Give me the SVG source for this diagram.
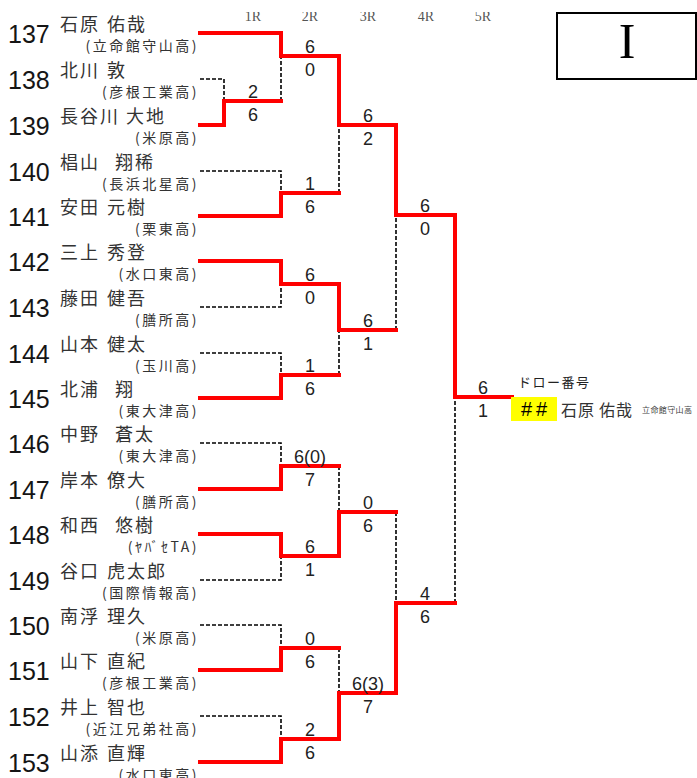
<svg xmlns="http://www.w3.org/2000/svg" width="697" height="778" viewBox="0 0 697 778">
<defs>
<style>
.num{font-family:"Liberation Sans",Arial,sans-serif;font-size:25px;fill:#151515}
.nm{font-family:"Noto Sans CJK JP","Noto Sans CJK SC",sans-serif;font-size:18px;letter-spacing:2px;fill:#333}
.sc{font-family:"Noto Sans CJK JP","Noto Sans CJK SC",sans-serif;font-size:14px;letter-spacing:2.5px;fill:#333;text-anchor:end}
.s{font-family:"Liberation Sans",Arial,sans-serif;font-size:18px;fill:#222;text-anchor:middle}
.rd{fill:#555;font-family:"Liberation Serif","Times New Roman",serif;font-size:14px;text-anchor:middle}
.r{fill:none;stroke:#ff0000;stroke-width:4;stroke-linejoin:miter;stroke-linecap:square}
.d{fill:none;stroke:#000;stroke-width:1.6;stroke-dasharray:4 2}
</style>
<clipPath id="hc"><rect x="0" y="12" width="697" height="20"/></clipPath>
</defs>
<rect width="697" height="778" fill="#fff"/>

<g id="rounds" clip-path="url(#hc)">
<text class="rd" x="253" y="21">1R</text>
<text class="rd" x="310" y="21">2R</text>
<text class="rd" x="368" y="21">3R</text>
<text class="rd" x="426" y="21">4R</text>
<text class="rd" x="483" y="21">5R</text>
</g>

<g id="block-label">
<rect x="557" y="13" width="139" height="66" fill="none" stroke="#000" stroke-width="2"/>
<text x="627" y="58" font-family="'Liberation Serif','Times New Roman',serif" font-size="50" text-anchor="middle" fill="#000">I</text>
</g>

<g id="p137"><text class="num" x="8" y="43">137</text><text class="nm" x="60" y="31">石原<tspan x="107">佑哉</tspan></text><text class="sc" x="199" y="51">(立命館守山高)</text></g>
<g id="p138"><text class="num" x="8" y="89">138</text><text class="nm" x="60" y="77">北川<tspan x="107">敦</tspan></text><text class="sc" x="199" y="97">(彦根工業高)</text></g>
<g id="p139"><text class="num" x="8" y="135">139</text><text class="nm" x="60" y="123">長谷川<tspan x="126">大地</tspan></text><text class="sc" x="199" y="143">(米原高)</text></g>
<g id="p140"><text class="num" x="8" y="181">140</text><text class="nm" x="60" y="169">椙山<tspan x="115">翔稀</tspan></text><text class="sc" x="199" y="189">(長浜北星高)</text></g>
<g id="p141"><text class="num" x="8" y="226">141</text><text class="nm" x="60" y="214">安田<tspan x="107">元樹</tspan></text><text class="sc" x="199" y="234">(栗東高)</text></g>
<g id="p142"><text class="num" x="8" y="271">142</text><text class="nm" x="60" y="259">三上<tspan x="107">秀登</tspan></text><text class="sc" x="199" y="279">(水口東高)</text></g>
<g id="p143"><text class="num" x="8" y="317">143</text><text class="nm" x="60" y="305">藤田<tspan x="107">健吾</tspan></text><text class="sc" x="199" y="325">(膳所高)</text></g>
<g id="p144"><text class="num" x="8" y="363">144</text><text class="nm" x="60" y="351">山本<tspan x="107">健太</tspan></text><text class="sc" x="199" y="371">(玉川高)</text></g>
<g id="p145"><text class="num" x="8" y="408">145</text><text class="nm" x="60" y="396">北浦<tspan x="115">翔</tspan></text><text class="sc" x="199" y="416">(東大津高)</text></g>
<g id="p146"><text class="num" x="8" y="453">146</text><text class="nm" x="60" y="441">中野<tspan x="115">蒼太</tspan></text><text class="sc" x="199" y="461">(東大津高)</text></g>
<g id="p147"><text class="num" x="8" y="499">147</text><text class="nm" x="60" y="487">岸本<tspan x="107">僚大</tspan></text><text class="sc" x="199" y="507">(膳所高)</text></g>
<g id="p148"><text class="num" x="8" y="544">148</text><text class="nm" x="60" y="532">和西<tspan x="115">悠樹</tspan></text><text class="sc" x="199" y="552">(ﾔﾊﾞｾTA)</text></g>
<g id="p149"><text class="num" x="8" y="590">149</text><text class="nm" x="60" y="578">谷口<tspan x="107">虎太郎</tspan></text><text class="sc" x="199" y="598">(国際情報高)</text></g>
<g id="p150"><text class="num" x="8" y="635">150</text><text class="nm" x="60" y="623">南浮<tspan x="107">理久</tspan></text><text class="sc" x="199" y="643">(米原高)</text></g>
<g id="p151"><text class="num" x="8" y="680">151</text><text class="nm" x="60" y="668">山下<tspan x="107">直紀</tspan></text><text class="sc" x="199" y="688">(彦根工業高)</text></g>
<g id="p152"><text class="num" x="8" y="726">152</text><text class="nm" x="60" y="714">井上<tspan x="107">智也</tspan></text><text class="sc" x="199" y="734">(近江兄弟社高)</text></g>
<g id="p153"><text class="num" x="8" y="772">153</text><text class="nm" x="60" y="760">山添<tspan x="107">直輝</tspan></text><text class="sc" x="199" y="780">(水口東高)</text></g>

<g id="connectors">
<path class="d" d="M200,79 H224 V101"/>
<path class="d" d="M281,101 V56"/>
<path class="d" d="M200,171 H281 V193"/>
<path class="d" d="M339,193 V125"/>
<path class="d" d="M200,307 H281 V284"/>
<path class="d" d="M200,353 H281 V375"/>
<path class="d" d="M339,375 V330"/>
<path class="d" d="M396,330 V215"/>
<path class="d" d="M200,443 H281 V466"/>
<path class="d" d="M200,580 H281 V556"/>
<path class="d" d="M339,466 V512"/>
<path class="d" d="M200,625 H281 V648"/>
<path class="d" d="M200,716 H281 V739"/>
<path class="d" d="M339,648 V693"/>
<path class="d" d="M396,512 V603"/>
<path class="d" d="M455,603 V397"/>

<path class="r" d="M200,125 H224 V101 H281"/>
<path class="r" d="M200,33 H281 V56 H339"/>
<path class="r" d="M200,216 H281 V193 H339"/>
<path class="r" d="M339,56 V125 H396"/>
<path class="r" d="M200,261 H281 V284 H339"/>
<path class="r" d="M200,398 H281 V375 H339"/>
<path class="r" d="M339,284 V330 H396"/>
<path class="r" d="M396,125 V215 H455"/>
<path class="r" d="M200,489 H281 V466 H339"/>
<path class="r" d="M200,534 H281 V556 H339"/>
<path class="r" d="M339,556 V512 H396"/>
<path class="r" d="M200,670 H281 V648 H339"/>
<path class="r" d="M200,762 H281 V739 H339"/>
<path class="r" d="M339,739 V693 H396"/>
<path class="r" d="M396,693 V603 H455"/>
<path class="r" d="M455,215 V397 H512"/>
</g>

<g id="scores">
<text class="s" x="253" y="98">2</text><text class="s" x="253" y="121">6</text>
<text class="s" x="310" y="53">6</text><text class="s" x="310" y="76">0</text>
<text class="s" x="310" y="190">1</text><text class="s" x="310" y="213">6</text>
<text class="s" x="368" y="122">6</text><text class="s" x="368" y="145">2</text>
<text class="s" x="310" y="281">6</text><text class="s" x="310" y="304">0</text>
<text class="s" x="310" y="372">1</text><text class="s" x="310" y="395">6</text>
<text class="s" x="368" y="327">6</text><text class="s" x="368" y="350">1</text>
<text class="s" x="425" y="212">6</text><text class="s" x="425" y="235">0</text>
<text class="s" x="483" y="394">6</text><text class="s" x="483" y="417">1</text>
<text class="s" x="310" y="463">6(0)</text><text class="s" x="310" y="486">7</text>
<text class="s" x="310" y="553">6</text><text class="s" x="310" y="576">1</text>
<text class="s" x="368" y="509">0</text><text class="s" x="368" y="532">6</text>
<text class="s" x="310" y="645">0</text><text class="s" x="310" y="668">6</text>
<text class="s" x="310" y="736">2</text><text class="s" x="310" y="759">6</text>
<text class="s" x="368" y="690">6(3)</text><text class="s" x="368" y="713">7</text>
<text class="s" x="425" y="600">4</text><text class="s" x="425" y="623">6</text>
</g>

<g id="winner">
<text x="518" y="387" font-family="'Noto Sans CJK JP','Noto Sans CJK SC',sans-serif" font-size="13" letter-spacing="1.5" fill="#222">ドロー番号</text>
<rect x="511" y="397" width="46" height="24" fill="#ffff00"/>
<text x="536" y="416" font-family="'Liberation Sans',Arial,sans-serif" font-size="20" letter-spacing="4" text-anchor="middle" fill="#000">##</text>
<text x="561" y="416" font-family="'Noto Sans CJK JP','Noto Sans CJK SC',sans-serif" font-size="16" letter-spacing="1" fill="#333">石原<tspan x="599">佑哉</tspan></text>
<text x="642" y="413" font-family="'Noto Sans CJK JP','Noto Sans CJK SC',sans-serif" font-size="8" letter-spacing="0.4" fill="#444">立命館守山高</text>
</g>
</svg>
